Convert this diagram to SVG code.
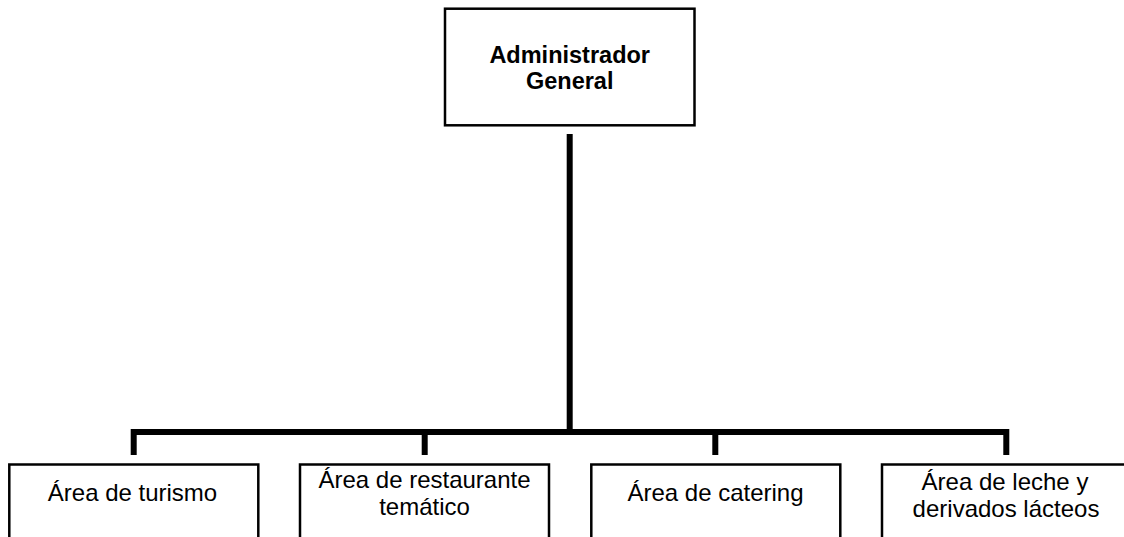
<svg xmlns="http://www.w3.org/2000/svg" width="1124" height="537" viewBox="0 0 1124 537">
<style>
.box{fill:#fff;stroke:#000;stroke-width:2.5}
.conn{fill:none;stroke:#000;stroke-width:6;stroke-linejoin:miter;stroke-linecap:butt}
.t{font-family:"Liberation Sans",Arial,sans-serif;font-size:24px;fill:#000;text-anchor:middle}
.tb{font-family:"Liberation Sans",Arial,sans-serif;font-size:23.5px;font-weight:bold;fill:#000;text-anchor:middle}
</style>
<rect width="1124" height="537" fill="#fff"/>
<g id="connectors">
<line class="conn" x1="569.7" y1="134" x2="569.7" y2="435"/>
<polyline class="conn" points="133.7,455 133.7,432 1006.3,432 1006.3,455"/>
<line class="conn" x1="424.7" y1="432" x2="424.7" y2="455"/>
<line class="conn" x1="715.3" y1="432" x2="715.3" y2="455"/>
</g>
<g id="admin">
<rect class="box" x="445" y="8.7" width="249.5" height="116.6"/>
<text class="tb" x="569.7" y="62.5">Administrador</text>
<text class="tb" x="569.7" y="88.5">General</text>
</g>
<g id="turismo">
<rect class="box" x="9.3" y="464.5" width="249" height="100"/>
<text class="t" x="132.5" y="501">Área de turismo</text>
</g>
<g id="restaurante">
<rect class="box" x="300" y="464.5" width="249" height="100"/>
<text class="t" x="424.5" y="488">Área de restaurante</text>
<text class="t" x="424.5" y="515">temático</text>
</g>
<g id="catering">
<rect class="box" x="591.3" y="464.5" width="249" height="100"/>
<text class="t" x="715.5" y="501">Área de catering</text>
</g>
<g id="leche">
<rect class="box" x="882" y="464.5" width="249" height="100"/>
<text class="t" x="1005" y="490">Área de leche y</text>
<text class="t" x="1006" y="516.5">derivados lácteos</text>
</g>
</svg>
